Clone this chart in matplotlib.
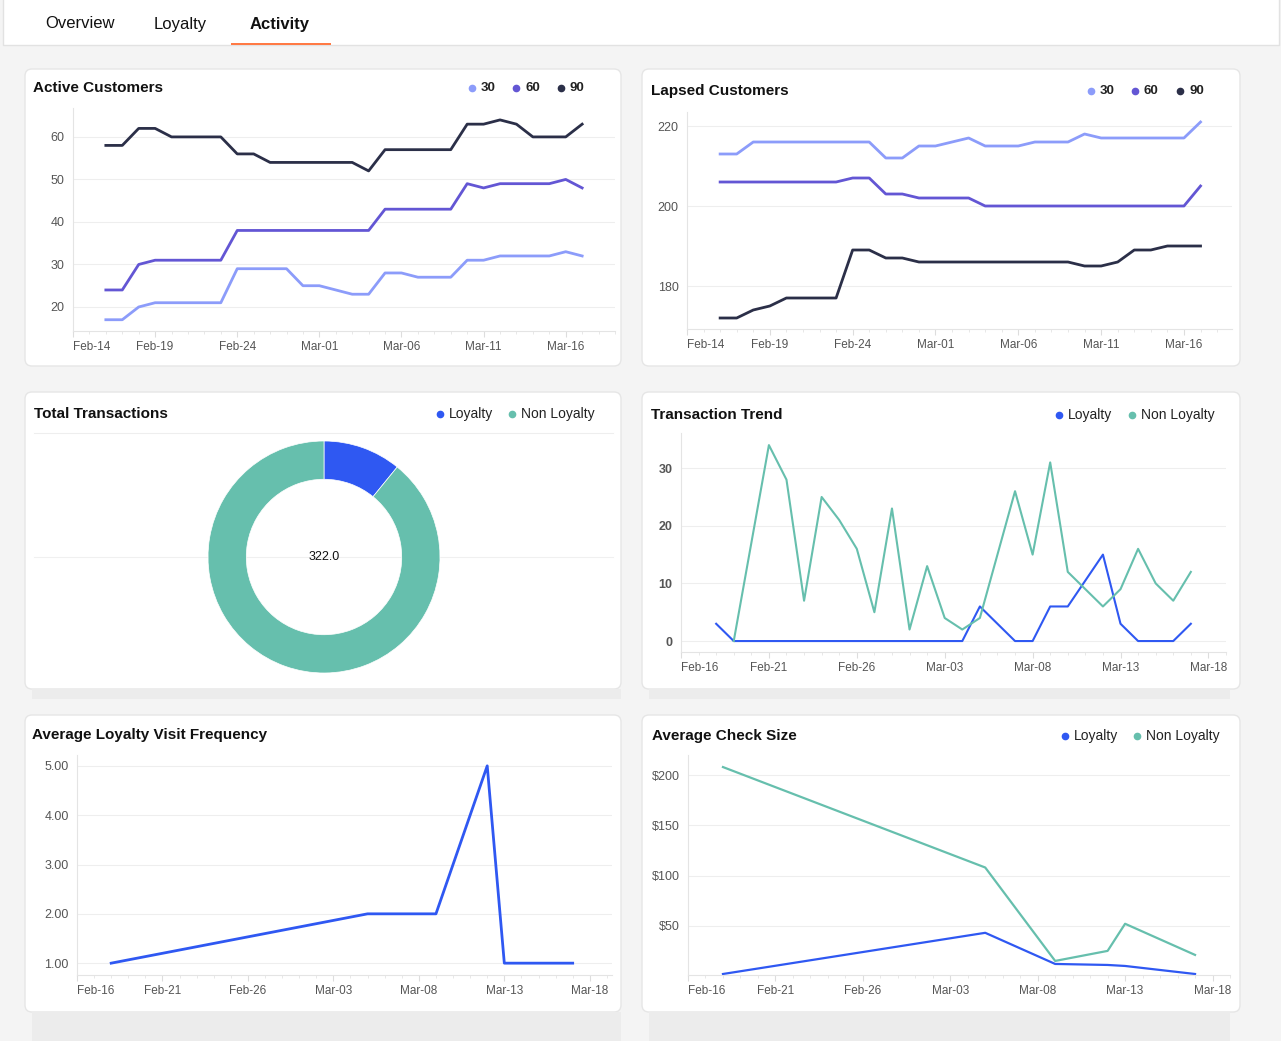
import numpy as np
import pandas as pd
import matplotlib
matplotlib.use("Agg")
import matplotlib.pyplot as plt
import matplotlib.dates as mdates
from matplotlib.patches import FancyBboxPatch, Rectangle

plt.rcParams["font.family"] = ["Liberation Sans", "DejaVu Sans"]

W, H = 1281, 1041

# ============================================================== Data
cust_days = pd.date_range("2025-02-16", "2025-03-17", freq="D")

active_30 = [17, 17, 20, 21, 21, 21, 21, 21, 29, 29, 29, 29, 25, 25, 24,
             23, 23, 28, 28, 27, 27, 27, 31, 31, 32, 32, 32, 32, 33, 32]
active_60 = [24, 24, 30, 31, 31, 31, 31, 31, 38, 38, 38, 38, 38, 38, 38,
             38, 38, 43, 43, 43, 43, 43, 49, 48, 49, 49, 49, 49, 50, 48]
active_90 = [58, 58, 62, 62, 60, 60, 60, 60, 56, 56, 54, 54, 54, 54, 54,
             54, 52, 57, 57, 57, 57, 57, 63, 63, 64, 63, 60, 60, 60, 63]

lapsed_30 = [213, 213, 216, 216, 216, 216, 216, 216, 216, 216, 212, 212, 215, 215, 216,
             217, 215, 215, 215, 216, 216, 216, 218, 217, 217, 217, 217, 217, 217, 221]
lapsed_60 = [206, 206, 206, 206, 206, 206, 206, 206, 207, 207, 203, 203, 202, 202, 202,
             202, 200, 200, 200, 200, 200, 200, 200, 200, 200, 200, 200, 200, 200, 205]
lapsed_90 = [172, 172, 174, 175, 177, 177, 177, 177, 189, 189, 187, 187, 186, 186, 186,
             186, 186, 186, 186, 186, 186, 186, 185, 185, 186, 189, 189, 190, 190, 190]

trend_days = pd.date_range("2025-02-18", "2025-03-17", freq="D")
trend_loyalty = [3, 0, 0, 0, 0, 0, 0, 0, 0, 0, 0, 0, 0, 0, 0,
                 6, 3, 0, 0, 6, 6, 10.5, 15, 3, 0, 0, 0, 3]
trend_non_days = pd.date_range("2025-02-19", "2025-03-17", freq="D")
trend_non = [0, 17, 34, 28, 7, 25, 21, 16, 5, 23, 2, 13, 4, 2,
             4, 15, 26, 15, 31, 12, 9, 6, 9, 16, 10, 7, 12]

txn_labels = ["Loyalty", "Non Loyalty"]
txn_values = [35, 287]
txn_total = "322.0"

visit_days = pd.to_datetime(["2025-02-18", "2025-03-05", "2025-03-09",
                             "2025-03-12", "2025-03-13", "2025-03-17"])
visit_freq = [1.0, 2.0, 2.0, 5.0, 1.0, 1.0]

check_days = visit_days
check_loyalty = [2, 43, 12, 11, 10, 2]
check_non = [208, 108, 15, 25, 52, 21]

C30, C60, C90 = "#8c9cfa", "#6356d4", "#2b2f48"
CLOY, CNON = "#2f58f2", "#66bfad"
TICK = "#555555"

# ============================================================== Canvas
fig = plt.figure(figsize=(W / 100, H / 100), dpi=100)
fig.patch.set_facecolor("#f4f4f4")
bg = fig.add_axes([0, 0, 1, 1])
bg.set_xlim(0, W)
bg.set_ylim(H, 0)
bg.axis("off")

bg.add_patch(Rectangle((3, -2), 1276, 47, facecolor="white", edgecolor="#e2e2e2", lw=1))
for x, t, w in [(80, "Overview", "normal"), (180, "Loyalty", "normal"), (280, "Activity", "bold")]:
    bg.text(x, 24, t, ha="center", va="center", fontsize=12, fontweight=w, color="#111111")
bg.add_patch(Rectangle((231, 42.5), 100, 2.5, facecolor="#ff7a45", edgecolor="none"))

cards = [(25, 69, 621, 366), (642, 69, 1240, 366),
         (25, 392, 621, 689), (642, 392, 1240, 689),
         (25, 715, 621, 1012), (642, 715, 1240, 1012)]
for l, t, r, b in cards:
    bg.add_patch(FancyBboxPatch((l, t), r - l, b - t, boxstyle="round,pad=0,rounding_size=7",
                                facecolor="white", edgecolor="#e6e6e6", lw=1))


def px_axes(l, t, r, b):
    return fig.add_axes([l / W, 1 - b / H, (r - l) / W, (b - t) / H])


def title(x, y, s):
    bg.text(x, y, s, ha="left", va="center", fontsize=11, fontweight="bold", color="#111111")


def legend(y, items, bold):
    for xd, label, col in items:
        bg.plot(xd, y, "o", ms=4.5, color=col)
        bg.text(xd + 9, y, label, ha="left", va="center", fontsize=9.5 if bold else 10,
                fontweight="bold" if bold else "normal", color="#222222")


def style(ax, start, span_days):
    t0 = pd.Timestamp(start)
    ax.set_xlim(t0, t0 + pd.Timedelta(days=span_days))
    for s in ("top", "right"):
        ax.spines[s].set_visible(False)
    for s in ("left", "bottom"):
        ax.spines[s].set_color("#e4e4e4")
    ax.grid(axis="y", color="#eeeeee", lw=0.8)
    ax.set_axisbelow(True)
    ax.xaxis.set_major_formatter(mdates.DateFormatter("%b-%d"))
    ax.xaxis.set_minor_locator(mdates.DayLocator())
    ax.tick_params(axis="x", which="major", length=4, color="#dddddd", labelsize=8.5,
                   labelcolor=TICK, pad=3)
    ax.tick_params(axis="x", which="minor", length=2.5, color="#e4e4e4")
    ax.tick_params(axis="y", length=0, labelsize=9, labelcolor=TICK, pad=6)
    ax.patch.set_alpha(0)


def five_day_ticks(ax, first, last):
    ax.set_xticks(pd.date_range(first, last, freq="5D"))
    ax.xaxis.get_major_ticks()[0].label1.set_horizontalalignment("left")


# ============================================================== Active customers
title(33, 88, "Active Customers")
legend(88, [(472, "30", C30), (516, "60", C60), (561, "90", C90)], True)
ax = px_axes(73, 108, 615, 331)
for vals, col in [(active_30, C30), (active_60, C60), (active_90, C90)]:
    ax.plot(cust_days, vals, color=col, lw=2)
style(ax, "2025-02-14", 33.0)
five_day_ticks(ax, "2025-02-14", "2025-03-16")
ax.set_ylim(14.35, 66.8)
ax.set_yticks([20, 30, 40, 50, 60])

# ============================================================== Lapsed customers
title(651, 91, "Lapsed Customers")
legend(91, [(1091, "30", C30), (1135, "60", C60), (1180, "90", C90)], True)
ax = px_axes(687, 112, 1232, 329)
for vals, col in [(lapsed_30, C30), (lapsed_60, C60), (lapsed_90, C90)]:
    ax.plot(cust_days, vals, color=col, lw=2)
style(ax, "2025-02-14", 32.9)
five_day_ticks(ax, "2025-02-14", "2025-03-16")
ax.set_ylim(169.25, 223.5)
ax.set_yticks([180, 200, 220])

# ============================================================== Total transactions
title(34, 414, "Total Transactions")
legend(414, [(440, txn_labels[0], CLOY), (512, txn_labels[1], CNON)], False)
bg.plot([34, 613], [433, 433], color="#eeeeee", lw=0.8)
bg.plot([34, 613], [557, 557], color="#f0f0f0", lw=0.8)
bg.add_patch(Rectangle((32, 689), 589, 10, facecolor="#ececec", edgecolor="none"))
bg.add_patch(Rectangle((649, 689), 581, 10, facecolor="#ececec", edgecolor="none"))
ax = px_axes(208, 441, 440, 673)
ax.pie(txn_values, colors=[CLOY, CNON], startangle=90, counterclock=False,
       radius=1, wedgeprops=dict(width=0.33, edgecolor="white", lw=0.5))
ax.set_xlim(-1, 1)
ax.set_ylim(-1, 1)
ax.set_aspect("equal")
ax.text(0, 0, txn_total, ha="center", va="center", fontsize=9, color="#111111")

# ============================================================== Transaction trend
title(651, 415, "Transaction Trend")
legend(415, [(1059, "Loyalty", CLOY), (1132, "Non Loyalty", CNON)], False)
ax = px_axes(681, 433, 1226, 652)
ax.plot(trend_days, trend_loyalty, color=CLOY, lw=1.5)
ax.plot(trend_non_days, trend_non, color=CNON, lw=1.5)
style(ax, "2025-02-16", 31.0)
five_day_ticks(ax, "2025-02-16", "2025-03-18")
ax.set_ylim(-1.9, 36.1)
ax.set_yticks([0, 10, 20, 30])
for lb in ax.get_yticklabels():
    lb.set_fontweight("bold")

# ============================================================== Visit frequency
title(32, 735, "Average Loyalty Visit Frequency")
ax = px_axes(77, 755, 612, 975)
ax.plot(visit_days, visit_freq, color=CLOY, lw=2)
style(ax, "2025-02-16", 31.3)
five_day_ticks(ax, "2025-02-16", "2025-03-18")
ax.set_ylim(0.76, 5.22)
ax.set_yticks([1, 2, 3, 4, 5])
ax.yaxis.set_major_formatter(matplotlib.ticker.FormatStrFormatter("%.2f"))
bg.add_patch(Rectangle((32, 1012), 589, 29, facecolor="#ececec", edgecolor="none"))

# ============================================================== Check size
title(652, 736, "Average Check Size")
legend(736, [(1065, "Loyalty", CLOY), (1137, "Non Loyalty", CNON)], False)
ax = px_axes(688, 755, 1230, 975)
ax.plot(check_days, check_loyalty, color=CLOY, lw=1.6)
ax.plot(check_days, check_non, color=CNON, lw=1.6)
style(ax, "2025-02-16", 31.0)
five_day_ticks(ax, "2025-02-16", "2025-03-18")
ax.set_ylim(1, 220)
ax.set_yticks([50, 100, 150, 200])
ax.yaxis.set_major_formatter(matplotlib.ticker.FuncFormatter(lambda v, p: f"${v:.0f}"))
bg.add_patch(Rectangle((649, 1012), 581, 29, facecolor="#ececec", edgecolor="none"))

fig.savefig("out.png", dpi=100)
